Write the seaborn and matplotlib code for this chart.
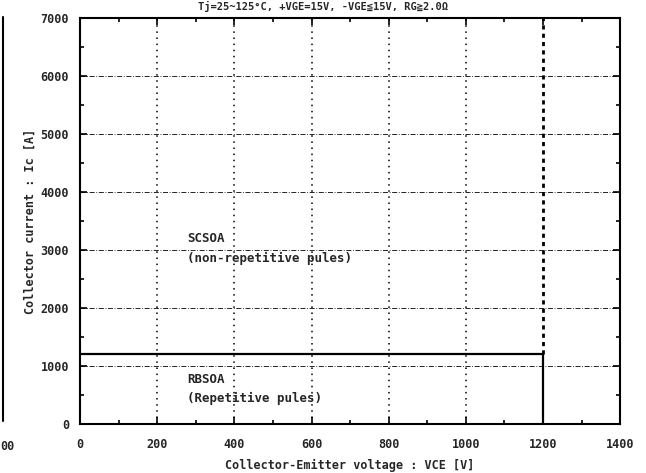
"""
IGBT safe operating area (RBSOA / SCSOA) chart
"""
import numpy as np
import pandas as pd
import matplotlib.pyplot as plt
from matplotlib.lines import Line2D
import seaborn as sns

# RBSOA boundary (repetitive pulses)
rb_vce = [0, 1200, 1200]
rb_ic = [1200, 1200, 0]
# SCSOA boundary (non-repetitive pulses)
sc_vce = [1200, 1200]
sc_ic = [1200, 7000]

x_ticks = [0, 200, 400, 600, 800, 1000, 1200, 1400]
y_ticks = [0, 1000, 2000, 3000, 4000, 5000, 6000, 7000]

title = "Tj=25~125°C, +VGE=15V, -VGE≦15V, RG≧2.0Ω"
x_label = "Collector-Emitter voltage : VCE [V]"
y_label = "Collector current : Ic [A]"

sns.set_style("ticks")
plt.rcParams['font.family'] = ['DejaVu Sans Mono', 'Noto Sans CJK JP']
plt.rcParams['font.weight'] = 'bold'

fig = plt.figure(figsize=(6.46, 4.73), dpi=100)
ax = fig.add_axes([0.124, 0.104, 0.836, 0.858])

rb = pd.DataFrame({'vce': rb_vce, 'ic': rb_ic})
sc = pd.DataFrame({'vce': sc_vce, 'ic': sc_ic})
sns.lineplot(data=rb, x='vce', y='ic', sort=False, estimator=None,
             color='black', linewidth=1.6, ax=ax)
sns.lineplot(data=sc, x='vce', y='ic', sort=False, estimator=None,
             color='black', linewidth=2.0, linestyle=(0, (1.5, 1.5)), ax=ax)

ax.set_xlim(0, 1400)
ax.set_ylim(0, 7000)
ax.set_xticks(x_ticks)
ax.set_yticks(y_ticks)
ax.set_xticks(np.arange(0, 1401, 100), minor=True)
ax.set_yticks(np.arange(0, 7001, 500), minor=True)
ax.tick_params(which='both', direction='in', top=True, right=True,
               labelsize=8.5, width=1.2, color='black')
ax.tick_params(which='major', length=5)
ax.tick_params(which='minor', length=3)
ax.tick_params(axis='x', which='major', pad=10)
ax.tick_params(axis='y', which='major', pad=8)
for lab in ax.get_xticklabels() + ax.get_yticklabels():
    lab.set_fontweight('bold')

# grid: dotted verticals, dash-dot horizontals
for xv in x_ticks[1:6]:
    ax.axvline(xv, color='black', linestyle=(0, (1, 3)), linewidth=1.1)
for yv in y_ticks[1:7]:
    ax.axhline(yv, color='black', linestyle=(0, (6, 2, 1, 2)), linewidth=0.6)

for s in ax.spines.values():
    s.set_linewidth(1.5)
    s.set_color('black')

ax.set_xlabel(x_label, fontsize=8.5, fontweight='bold', labelpad=6)
ax.set_ylabel(y_label, fontsize=8.5, fontweight='bold', labelpad=3)

ax.text(277, 3200, "SCSOA", fontsize=9, fontweight='bold', va='center')
ax.text(277, 2850, "(non-repetitive pules)", fontsize=9, fontweight='bold', va='center')
ax.text(277, 760, "RBSOA", fontsize=9, fontweight='bold', va='center')
ax.text(277, 430, "(Repetitive pules)", fontsize=9, fontweight='bold', va='center')

# title line along the top edge
fig.text(0.5, 0.999, title, ha='center', va='top', fontsize=7.5, fontweight='bold')

# fragment of neighbouring chart at the left edge
fig.add_artist(Line2D([0.005, 0.005], [0.11, 0.965], color='black', linewidth=1.5))
fig.text(0.0, 0.057, "00", ha='left', va='center', fontsize=8.5, fontweight='bold')

plt.savefig('out.png', dpi=100)
plt.close()
